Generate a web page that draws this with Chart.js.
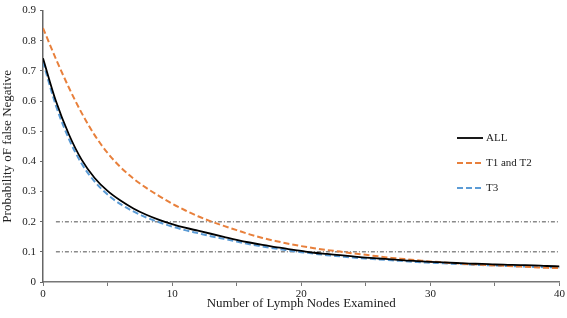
<!DOCTYPE html>
<html>
<head>
<meta charset="utf-8">
<script src="https://cdn.jsdelivr.net/npm/chart.js@4.4.1/dist/chart.umd.min.js"></script>
<style>
  html,body{margin:0;padding:0;background:#fff;}
  #wrap{width:567px;height:318px;position:relative;}
</style>
</head>
<body>
<div id="wrap"><canvas id="c" width="567" height="318"></canvas></div>
<script>
// lymph nodes examined
const nodes = [0,1,2,3,4,5,6,7,8,9,10,11,12,13,14,15,16,17,18,19,20,
               21,22,23,24,25,26,27,28,29,30,31,32,33,34,35,36,37,38,39,40];
const allPts = [.742,.600,.490,.405,.345,.302,.270,.244,.223,.206,.192,.180,.170,.160,.150,.140,.131,.123,.116,.109,.103,
                .097,.093,.089,.085,.081,.078,.075,.072,.069,.067,.065,.063,.061,.060,.058,.057,.056,.055,.053,.052];
const t12Pts = [.842,.740,.645,.560,.487,.428,.381,.343,.312,.285,.260,.238,.218,.201,.186,.172,.158,.146,.136,.127,.119,
                .112,.106,.101,.095,.090,.085,.080,.076,.072,.068,.065,.062,.059,.057,.055,.053,.051,.049,.047,.046];
const t3Pts  = [.730,.585,.475,.392,.333,.290,.258,.234,.214,.198,.184,.172,.162,.152,.143,.134,.125,.118,.111,.104,.099,
                .094,.089,.085,.081,.078,.075,.072,.069,.066,.064,.062,.060,.058,.056,.055,.053,.052,.050,.049,.048];
const thresholds = [0.2, 0.1];
const threshRange = [1, 40];
const seriesNames = ['ALL', 'T1 and T2', 'T3'];

const serif = "'Liberation Serif','Times New Roman',serif";
const pts = arr => nodes.map((x,i)=>({x, y: arr[i]}));

const series = [
  {label: seriesNames[0], data: pts(allPts), borderColor:'#000', borderWidth:1.8, borderDash:[]},
  {label: seriesNames[1], data: pts(t12Pts), borderColor:'#E8803C', borderWidth:2, borderDash:[6,3]},
  {label: seriesNames[2], data: pts(t3Pts),  borderColor:'#5B9BD5', borderWidth:2, borderDash:[6,3]},
];

const refLines = thresholds.map(v => ({
  label: 'ref'+v,
  data: threshRange.map(x => ({x, y: v})),
  borderColor:'#8a8a8a', borderWidth:1.5, borderDash:[4,2,1,2],
  pointRadius:0, tension:0, order:5
}));

const legendPlugin = {
  id:'lg',
  afterDraw(chart){
    const ctx = chart.ctx;
    const x0 = 457, x1 = 483, ys = [138, 163, 188];
    ctx.save();
    series.forEach((s,i)=>{
      ctx.beginPath();
      ctx.strokeStyle = s.borderColor;
      ctx.lineWidth = s.borderWidth;
      ctx.setLineDash(s.borderDash);
      ctx.moveTo(x0, ys[i]); ctx.lineTo(x1, ys[i]);
      ctx.stroke();
      ctx.setLineDash([]);
      ctx.fillStyle = '#222';
      ctx.font = '11px ' + serif;
      ctx.textBaseline = 'middle';
      ctx.fillText(s.label, x1 + 3, ys[i] + 0.5);
    });
    ctx.restore();
  }
};

new Chart(document.getElementById('c'), {
  type:'line',
  data:{
    datasets: [
      ...series.map(s => ({...s, pointRadius:0, cubicInterpolationMode:'monotone', fill:false, order:1})),
      ...refLines
    ]
  },
  options:{
    responsive:false, animation:false,
    layout:{ padding:{ top:5, right:6, left:0, bottom:0 } },
    plugins:{ legend:{display:false}, tooltip:{enabled:false} },
    scales:{
      x:{
        type:'linear', min:0, max:40,
        ticks:{ stepSize:5, color:'#222', font:{family:serif, size:11}, padding:2,
          callback: v => v % 10 === 0 ? v : '' , maxRotation:0, autoSkip:false},
        grid:{ drawOnChartArea:false, tickLength:4, color:'#777', tickColor:'#777' },
        border:{ color:'#777', width:1.5 },
        title:{ display:true, text:'Number of Lymph Nodes Examined', color:'#222',
          font:{family:serif, size:13}, padding:{top:0, bottom:7} },
        afterFit: s => { s.height = 36; }
      },
      y:{
        min:0, max:0.9,
        ticks:{ stepSize:0.1, color:'#222', font:{family:serif, size:11}, padding:4,
          callback: v => +v.toFixed(1) },
        grid:{ drawOnChartArea:false, tickLength:3, color:'#666', tickColor:'#666' },
        border:{ color:'#666', width:1.5 },
        title:{ display:true, text:'Probability oF false Negative', color:'#222',
          font:{family:serif, size:13}, padding:{top:0, bottom:2} },
        afterFit: s => { s.width = 43; }
      }
    }
  },
  plugins:[legendPlugin]
});
</script>
</body>
</html>
